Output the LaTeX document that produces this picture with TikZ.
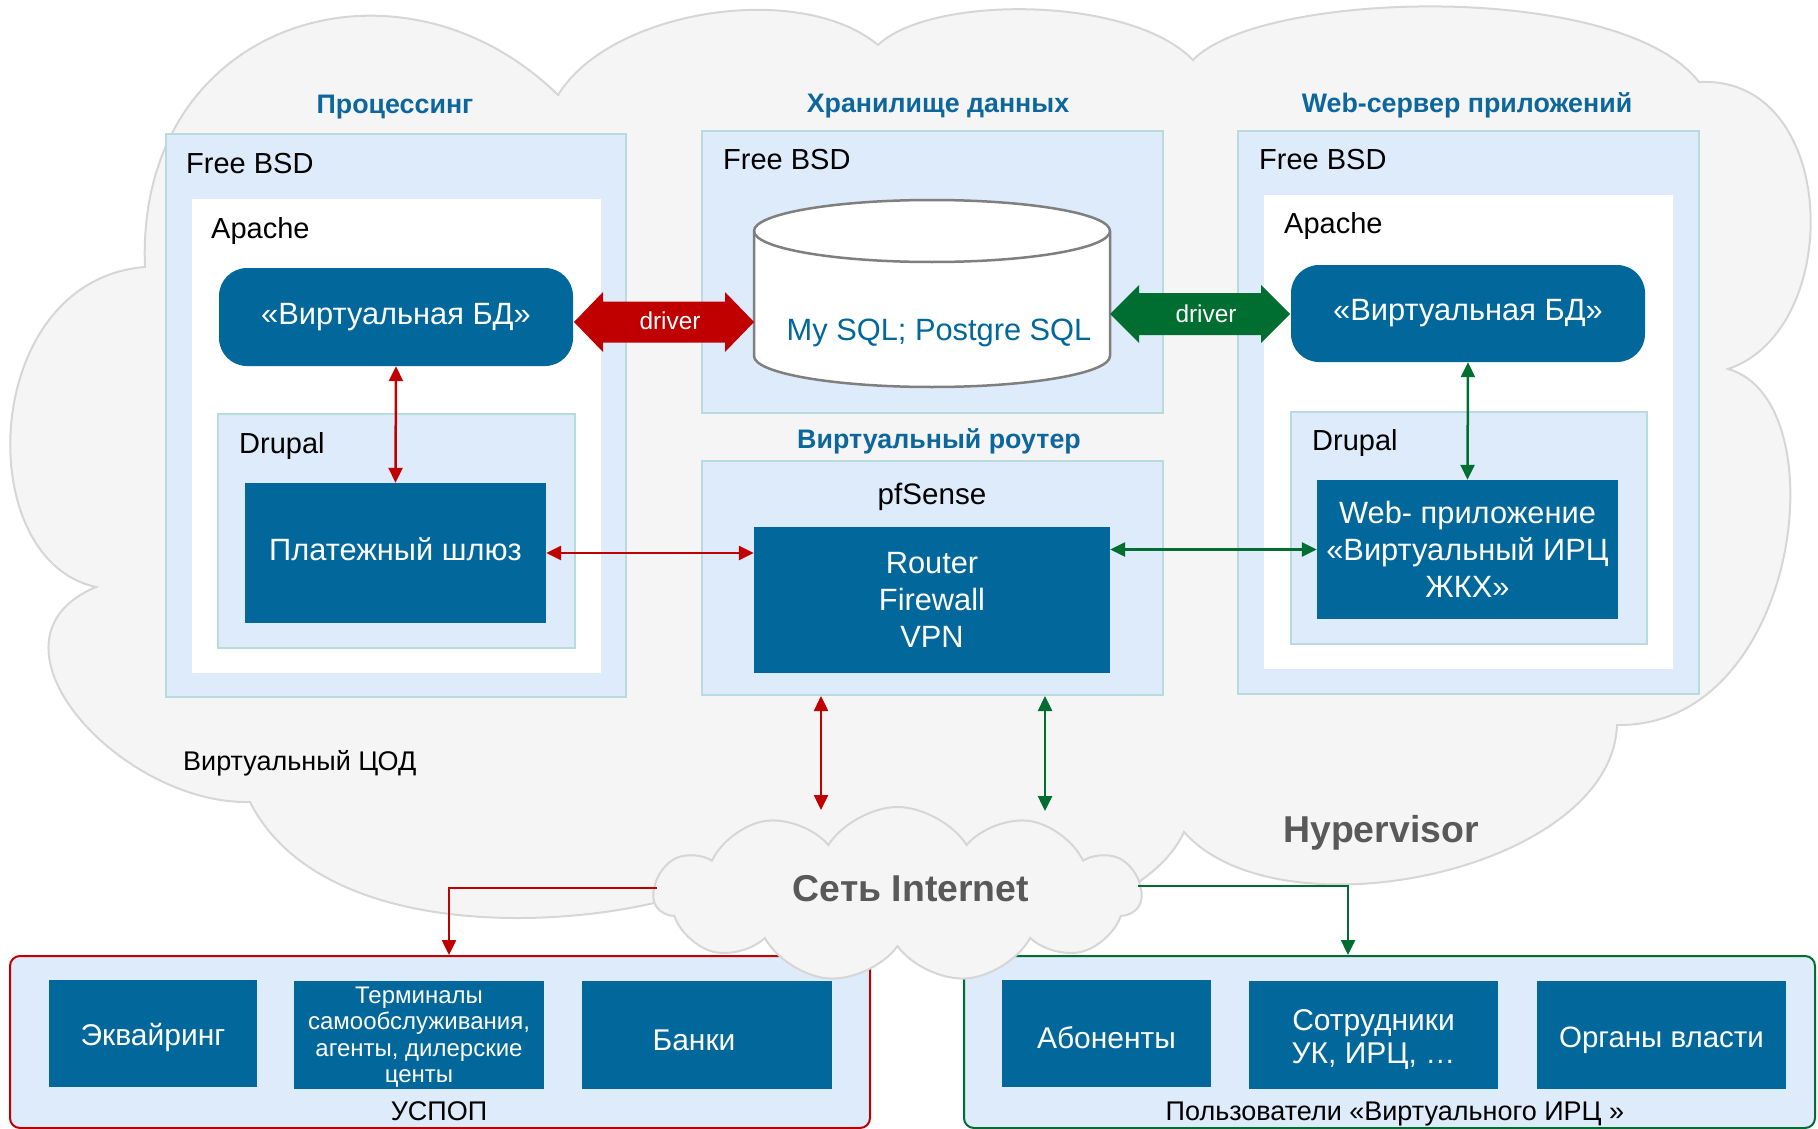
\documentclass[tikz,border=0pt]{standalone}
\usepackage{fontspec}
\setmainfont{Liberation Sans}
\usetikzlibrary{arrows.meta,shapes.symbols}
\definecolor{bluebox}{HTML}{02679A}
\definecolor{titleblue}{HTML}{0D679C}
\definecolor{lightfill}{HTML}{DEEBFA}
\definecolor{lightborder}{HTML}{B8DCDE}
\definecolor{cloudfill}{HTML}{F5F5F5}
\definecolor{cloudline}{HTML}{D6D6D6}
\definecolor{arrred}{HTML}{C00000}
\definecolor{arrgreen}{HTML}{006E30}
\definecolor{greytext}{HTML}{595959}
\definecolor{cylline}{HTML}{7F7F7F}
\newcommand{\fsz}[2]{\fontsize{#1}{#2}\selectfont}
\newcommand{\upstrut}[1]{\rule{0pt}{#1}}
\begin{document}
\begin{tikzpicture}[x=1pt,y=1pt,
  bbox/.style={fill=bluebox, draw=none, text=white, inner sep=0pt, align=center, font=\fsz{30.8}{37}},
  lbox/.style={fill=lightfill, draw=lightborder, line width=2pt, inner sep=0pt},
  wbox/.style={fill=white, draw=none, inner sep=0pt},
  lbl/.style={inner sep=0pt, text=black, font=\fsz{29}{35}},
  ttl/.style={inner sep=0pt, text=titleblue, font=\bfseries\fsz{26.8}{31}},
  redarr/.style={draw=arrred, line width=2.5pt, arrows={Triangle[length=15pt,width=14pt]-Triangle[length=15pt,width=14pt]}},
  grnarr/.style={draw=arrgreen, line width=2.5pt, arrows={Triangle[length=15pt,width=14pt]-Triangle[length=15pt,width=14pt]}},
  redone/.style={draw=arrred, line width=2.5pt, arrows={-Triangle[length=15pt,width=14pt]}},
  grnone/.style={draw=arrgreen, line width=2.5pt, arrows={-Triangle[length=15pt,width=14pt]}},
  drvtxt/.style={inner sep=0pt, text=white, font=\fsz{24.4}{28}},
  grey/.style={inner sep=0pt, text=greytext, font=\bfseries\fsz{37.4}{42}}
]
\useasboundingbox (0,0) rectangle (1818,-1129);

% Hypervisor cloud
\path[draw=cloudline, line width=2pt, fill=cloudfill]
  (145,-267) .. controls (135,-20) and (400,60) .. (558,-95)
  .. controls (610,-10) and (800,20) .. (878,-45)
  .. controls (930,5) and (1130,5) .. (1193,-60)
  .. controls (1260,10) and (1620,20) .. (1699,-82)
  .. controls (1840,-75) and (1845,-330) .. (1728,-369)
  .. controls (1840,-400) and (1800,-728) .. (1617,-725)
  .. controls (1612,-870) and (1280,-940) .. (1184,-832)
  .. controls (1130,-950) and (800,-980) .. (720,-880)
  .. controls (640,-925) and (330,-960) .. (250,-802)
  .. controls (120,-805) and (-30,-640) .. (96,-587)
  .. controls (-30,-560) and (-20,-280) .. (145,-267) -- cycle;

% Processing
\node[ttl, anchor=base] (tproc) at (395,-114) {Процессинг};
\node[lbox, minimum width=460pt, minimum height=563pt] (proc) at (396,-415.5) {};
\node[wbox, minimum width=409pt, minimum height=474pt] (apache1) at (396.5,-436) {};
\node[bbox, minimum width=354pt, minimum height=98pt, rounded corners=28pt] (vdb1) at (396,-317) {«Виртуальная БД»};
\node[lbox, minimum width=357pt, minimum height=234pt] (drup1) at (396.5,-531) {};
\node[bbox, minimum width=301pt, minimum height=140pt] (gw) at (395.5,-553) {Платежный шлюз\rule[-8pt]{0pt}{8pt}};
\node[lbl, anchor=base west] (fb1) at (186,-173) {Free BSD};
\node[lbl, anchor=base west] (ap1) at (211,-238) {Apache};
\node[lbl, anchor=base west] (dr1) at (239,-453) {Drupal};

% Storage
\node[ttl, anchor=base] (tstor) at (938,-113) {Хранилище данных};
\node[lbox, minimum width=461pt, minimum height=282pt] (stor) at (932.5,-272) {};
\node[lbl, anchor=base west] (fb2) at (723,-170) {Free BSD};
\path[draw=cylline, line width=2.5pt, fill=white] (754,-231) -- (754,-356)
  arc[start angle=180, end angle=360, x radius=178pt, y radius=31pt] -- (1110,-231)
  arc[start angle=0, end angle=180, x radius=178pt, y radius=31pt] -- cycle;
\draw[cylline, line width=2.5pt] (754,-231) arc[start angle=180, end angle=360, x radius=178pt, y radius=31pt];
\node[inner sep=0pt, text=bluebox, font=\fsz{30.8}{36}, anchor=base] (db) at (939,-340) {My SQL; Postgre SQL};

% Router
\node[ttl, anchor=base] (trt) at (939,-448) {Виртуальный роутер};
\node[lbox, minimum width=461pt, minimum height=234pt] (rtbox) at (932.5,-578) {};
\node[lbl, anchor=base, font=\fsz{29.6}{35}] (pfs) at (932,-504) {pfSense};
\node[bbox, minimum width=356pt, minimum height=146pt] (rt) at (932,-600) {Router\\Firewall\\VPN};

% Web server
\node[ttl, anchor=base] (tweb) at (1467,-113) {Web-сервер приложений};
\node[lbox, minimum width=461pt, minimum height=563pt] (web) at (1468.5,-412.5) {};
\node[wbox, minimum width=409pt, minimum height=474pt] (apache2) at (1468.5,-432) {};
\node[bbox, minimum width=354pt, minimum height=97pt, rounded corners=28pt] (vdb2) at (1468,-313.5) {«Виртуальная БД»};
\node[lbox, minimum width=356pt, minimum height=232pt] (drup2) at (1469,-528) {};
\node[bbox, minimum width=301pt, minimum height=139pt] (wa) at (1467.5,-549.5) {Web- приложение\\«Виртуальный ИРЦ\\ЖКХ»};
\node[lbl, anchor=base west] (fb3) at (1259,-170) {Free BSD};
\node[lbl, anchor=base west] (ap2) at (1284,-233) {Apache};
\node[lbl, anchor=base west] (dr2) at (1312,-450) {Drupal};

% labels in cloud
\node[lbl, anchor=base west, font=\fsz{27}{31}] (vcod) at (183,-770) {Виртуальный ЦОД};
\node[grey, anchor=base] (hyp) at (1381,-842) {Hypervisor};

% driver arrows
\fill[arrred] (574,-322) -- ++(29,30) -- ++(0,-9.5) -- (725,-301.5) -- ++(0,9.5) -- (754,-322)
  -- (725,-352) -- ++(0,9.5) -- (603,-342.5) -- ++(0,-9.5) -- cycle;
\node[drvtxt, anchor=base] (drv1) at (670,-329) {driver};
\fill[arrgreen] (1110,-314) -- ++(29,29) -- ++(0,-8) -- (1261,-293) -- ++(0,8) -- (1290,-314)
  -- (1261,-343) -- ++(0,8) -- (1139,-335) -- ++(0,-8) -- cycle;
\node[drvtxt, anchor=base] (drv2) at (1206,-322) {driver};

% internal connectors
\draw[redarr] (vdb1.south) -- (gw.north);
\draw[grnarr] (vdb2.south) -- (wa.north);
\draw[redarr] (gw.east) -- (gw.east -| rt.west);
\draw[grnarr] (rt.east |- wa.west) -- (wa.west);

% bottom groups
\node[fill=lightfill, draw=arrred, line width=2pt, rounded corners=10pt, minimum width=860pt, minimum height=172pt, inner sep=0pt] (uspop) at (440,-1042) {};
\node[fill=lightfill, draw=arrgreen, line width=2pt, rounded corners=10pt, minimum width=851pt, minimum height=172pt, inner sep=0pt] (users) at (1389.5,-1042) {};
\node[bbox, font=\fsz{30}{34}, minimum width=208pt, minimum height=107pt] (acq) at (153,-1033.5) {\upstrut{31pt}Эквайринг};
\node[bbox, font=\fsz{24}{26.5}, minimum width=250pt, minimum height=108pt] (term) at (419,-1035) {\upstrut{21pt}Терминалы\\самообслуживания,\\агенты, дилерские\\центы};
\node[bbox, font=\fsz{30}{34}, minimum width=250pt, minimum height=108pt, text width=250pt, align=center] (banks) at (707,-1035) {\hspace*{-26pt}\upstrut{31pt}Банки};
\node[bbox, font=\fsz{30}{34}, minimum width=209pt, minimum height=107pt] (abon) at (1106.5,-1033.5) {\upstrut{31pt}Абоненты};
\node[bbox, font=\fsz{30}{33.5}, minimum width=249pt, minimum height=108pt] (staff) at (1373.5,-1035) {\upstrut{30pt}Сотрудники\\УК, ИРЦ, …};
\node[bbox, font=\fsz{29.5}{34}, minimum width=249pt, minimum height=108pt] (gov) at (1661.5,-1035) {\upstrut{31pt}Органы власти};
\node[lbl, anchor=base, font=\fsz{27}{31}] (uspl) at (439,-1120) {УСПОП};
\node[lbl, anchor=base, font=\fsz{27}{31}] (usrl) at (1395,-1120) {Пользователи «Виртуального ИРЦ »};

% internet cloud
\node[cloud, cloud puffs=11, cloud puff arc=115, aspect=2.8, minimum width=487pt, minimum height=175pt, draw=cloudline, fill=cloudfill, line width=2pt, inner sep=0pt] (inet) at (897.5,-894.5) {};
\node[grey, anchor=base] (inetlbl) at (911,-901) {Сеть Internet};

% router <-> internet
\coordinate (inr) at (821,-810);
\coordinate (ing) at (1045,-811);
\draw[redarr] (rtbox.south -| inr) -- (inr);
\draw[grnarr] (rtbox.south -| ing) -- (ing);

% internet -> groups
\coordinate (inL) at (657,-888);
\coordinate (inR) at (1138,-886);
\coordinate (u1) at (449,-955);
\coordinate (u2) at (1348,-955);
\draw[redone] (inL) -| (u1);
\draw[grnone] (inR) -| (u2);
\end{tikzpicture}
\end{document}
